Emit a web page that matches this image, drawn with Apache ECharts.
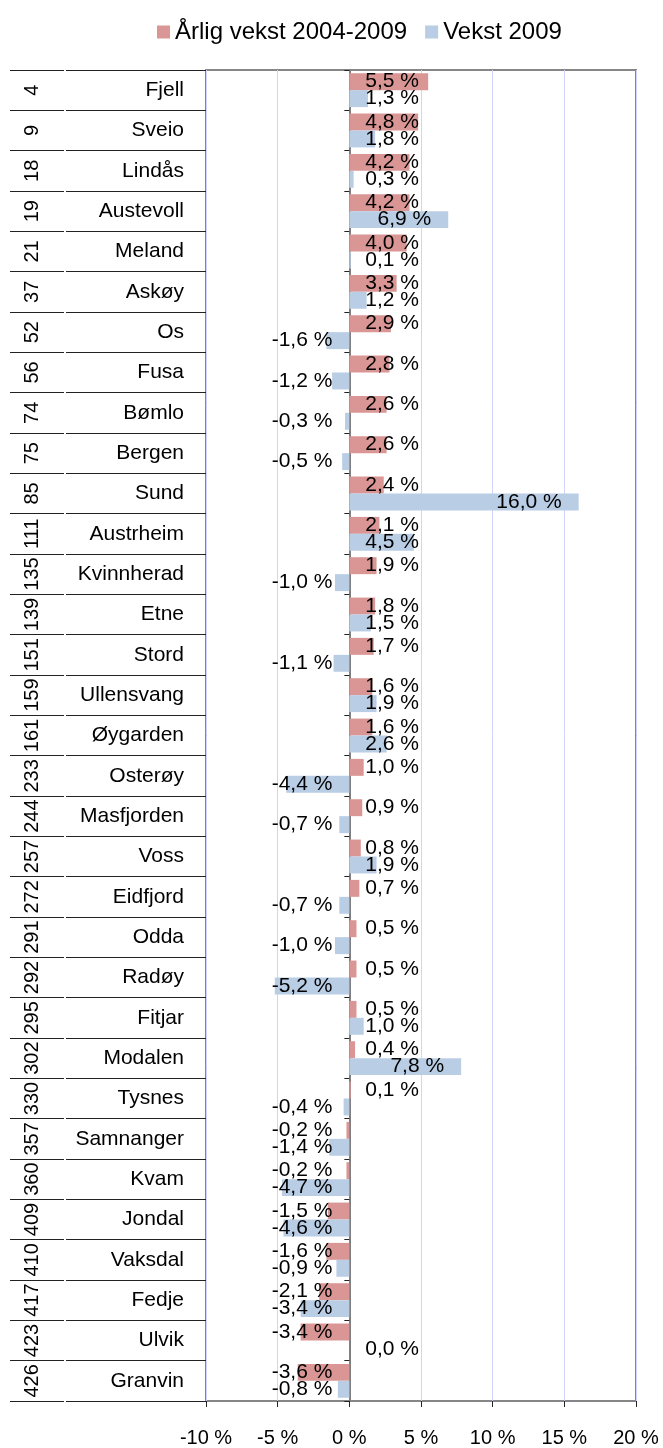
<!DOCTYPE html>
<html>
<head>
<meta charset="utf-8">
<script src="https://cdn.jsdelivr.net/npm/echarts@6/dist/echarts.min.js"></script>
<style>
  html, body { margin: 0; padding: 0; background: #fff; }
  #chart { width: 663px; height: 1448px; }
</style>
</head>
<body>
<div id="chart"></div>
<script>
// data
var ranks = ['4', '9', '18', '19', '21', '37', '52', '56', '74', '75', '85', '111', '135', '139', '151',
  '159', '161', '233', '244', '257', '272', '291', '292', '295', '302', '330', '357', '360', '409',
  '410', '417', '423', '426'];
var kommuner = ['Fjell', 'Sveio', 'Lindås', 'Austevoll', 'Meland', 'Askøy', 'Os', 'Fusa', 'Bømlo',
  'Bergen', 'Sund', 'Austrheim', 'Kvinnherad', 'Etne', 'Stord', 'Ullensvang', 'Øygarden', 'Osterøy',
  'Masfjorden', 'Voss', 'Eidfjord', 'Odda', 'Radøy', 'Fitjar', 'Modalen', 'Tysnes', 'Samnanger',
  'Kvam', 'Jondal', 'Vaksdal', 'Fedje', 'Ulvik', 'Granvin'];
var aarligVekst = [5.5, 4.8, 4.2, 4.2, 4.0, 3.3, 2.9, 2.8, 2.6, 2.6, 2.4, 2.1, 1.9, 1.8, 1.7,
  1.6, 1.6, 1.0, 0.9, 0.8, 0.7, 0.5, 0.5, 0.5, 0.4, 0.1, -0.2, -0.2, -1.5, -1.6, -2.1, -3.4, -3.6];
var vekst2009 = [1.3, 1.8, 0.3, 6.9, 0.1, 1.2, -1.6, -1.2, -0.3, -0.5, 16.0, 4.5, -1.0, 1.5, -1.1,
  1.9, 2.6, -4.4, -0.7, 1.9, -0.7, -1.0, -5.2, 1.0, 7.8, -0.4, -1.4, -4.7, -4.6, -0.9, -3.4, 0.0, -0.8];
var xTicks = [-10, 20, 5]; // min, max, step

var FONT = "'Liberation Sans', Arial, sans-serif";

function pct(v) {
  return v.toFixed(1).replace('.', ',') + ' %';
}

// Excel-like label placement: inside end when the bar is long enough,
// otherwise pushed just beside the zero line
function withLabels(values) {
  return values.map(function (v) {
    var lab;
    if (v < 0) {
      lab = { position: 'insideRight', distance: 17 };
    } else if (v >= 6) {
      lab = { position: 'insideRight', distance: 17 };
    } else {
      lab = { position: 'insideLeft', distance: 16 };
    }
    return { value: v, label: lab };
  });
}

var chart = echarts.init(document.getElementById('chart'));

var labelCommon = {
  show: true,
  color: '#000',
  fontSize: 21,
  fontFamily: FONT,
  formatter: function (p) { return pct(p.value); }
};

chart.setOption({
  animation: false,
  textStyle: { fontFamily: FONT },
  legend: {
    top: 15,
    left: 152,
    icon: 'rect',
    itemWidth: 13,
    itemHeight: 13,
    itemGap: 18,
    textStyle: { fontSize: 24, color: '#000', fontFamily: FONT },
    data: ['Årlig vekst 2004-2009', 'Vekst 2009']
  },
  grid: {
    left: 206, right: 27, top: 70, bottom: 45,
    show: true, borderColor: '#868686', borderWidth: 2
  },
  xAxis: {
    type: 'value',
    min: xTicks[0],
    max: xTicks[1],
    interval: xTicks[2],
    axisLine: { show: false },
    axisTick: { show: true, length: 6, lineStyle: { color: '#222' } },
    splitLine: { lineStyle: { color: '#d2d2ff', width: 1 } },
    axisLabel: {
      margin: 27,
      fontSize: 20,
      color: '#000',
      fontFamily: FONT,
      formatter: function (v) { return v + ' %'; }
    }
  },
  yAxis: [
    {
      type: 'category',
      data: kommuner,
      inverse: true,
      position: 'left',
      axisLine: { show: false, onZero: false },
      axisTick: { show: true, length: 140, lineStyle: { color: '#222' } },
      axisLabel: { interval: 0, margin: 22, fontSize: 21, color: '#000', fontFamily: FONT }
    },
    {
      type: 'category',
      data: ranks,
      inverse: true,
      position: 'left',
      offset: 142,
      axisLine: { show: false, onZero: false },
      axisTick: { show: true, interval: 0, length: 54, lineStyle: { color: '#222' } },
      axisLabel: {
        interval: 0, rotate: 90, align: 'center', verticalAlign: 'middle', margin: 32,
        fontSize: 20, color: '#000', fontFamily: FONT
      }
    },
    {
      type: 'category',
      data: kommuner,
      inverse: true,
      position: 'left',
      axisLine: { show: true, onZero: true, lineStyle: { color: '#808080', width: 2 } },
      axisTick: { show: true, interval: 0, length: 5, lineStyle: { color: '#222' } },
      axisLabel: { show: false }
    }
  ],
  series: [
    {
      name: 'Årlig vekst 2004-2009',
      type: 'bar',
      yAxisIndex: 0,
      barGap: '0%',
      barCategoryGap: '16%',
      itemStyle: { color: '#d99694' },
      label: labelCommon,
      data: withLabels(aarligVekst)
    },
    {
      name: 'Vekst 2009',
      type: 'bar',
      yAxisIndex: 0,
      barGap: '0%',
      barCategoryGap: '16%',
      itemStyle: { color: '#b9cde5' },
      label: labelCommon,
      data: withLabels(vekst2009)
    }
  ]
});
</script>
</body>
</html>
